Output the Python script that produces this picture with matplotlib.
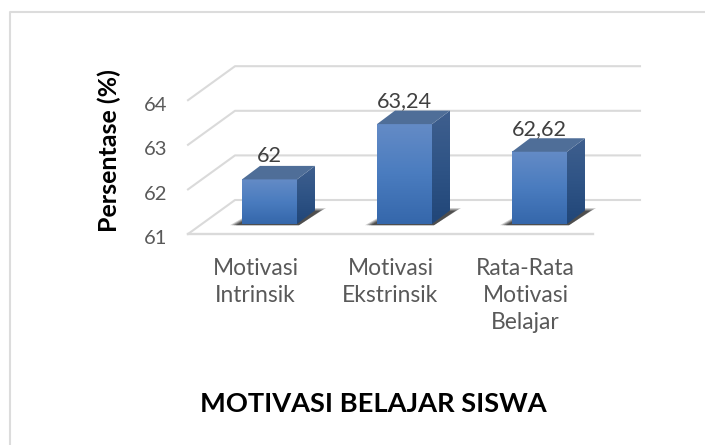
import numpy as np
import matplotlib
matplotlib.use("Agg")
import matplotlib.pyplot as plt
from matplotlib.colors import LinearSegmentedColormap
from matplotlib.patches import Polygon
from matplotlib.lines import Line2D
from matplotlib.transforms import ScaledTranslation

categories = ["Motivasi\nIntrinsik", "Motivasi\nEkstrinsik", "Rata-Rata\nMotivasi\nBelajar"]
values = [62.0, 63.24, 62.62]
value_labels = ["62", "63,24", "62,62"]
y_ticks = [61, 62, 63, 64]
title = "MOTIVASI BELAJAR SISWA"
y_label = "Persentase (%)"

W, H = 705, 445
plt.rcParams["font.family"] = ["Lato", "DejaVu Sans"]
fig = plt.figure(figsize=(W / 100, H / 100), dpi=100, facecolor="white")

# axes = front edge of the floor of the 3D box
L, R, B, T = 188, 593, 234, 100.2
ax = fig.add_axes([L / W, 1 - B / H, (R - L) / W, (B - T) / H])
ax.set_xlim(-0.5, 2.5)
ax.set_ylim(61, 64)
ax.patch.set_alpha(0)
for s in ax.spines.values():
    s.set_visible(False)

PX = 3 / (R - L)          # data x per pixel
PY = 3 / (B - T)          # data y per pixel
GRID = "#dadada"
DX, DY = 47 * PX, 34 * PY  # depth of the box

# walls and floor lines
for v in y_ticks:
    ax.plot([-0.5, -0.5 + DX, 2.5 + DX], [v, v + DY, v + DY], color=GRID, lw=1.5,
            clip_on=False, zorder=1, solid_joinstyle="round")
ax.plot([-0.5, 2.5], [61, 61], color=GRID, lw=1.7, clip_on=False, zorder=1)

# bars
ox, oy = 14 * PX, 10 * PY           # bar front plane
bw = 55 * PX
bx, by = 18 * PX, 13.5 * PY         # bar depth
front = LinearSegmentedColormap.from_list("f", ["#648bc6", "#4a7cbf", "#3567ab"])
side = LinearSegmentedColormap.from_list("s", ["#3f5f8e", "#2f5486", "#214678"])
grad = np.linspace(0, 1, 128).reshape(-1, 1)

for i, (v, lab) in enumerate(zip(values, value_labels)):
    x0 = i - bw / 2 + ox
    x1 = x0 + bw
    y0 = 61 + oy
    y1 = v + oy
    # floor shadow: soft parallelogram lying behind the bar
    for inset, a in [(0, 0.22), (2, 0.30), (4, 0.38), (6, 0.45)]:
        ax.add_patch(Polygon([(x0 - (12 - inset) * PX, y0 - 1.2 * PY),
                              (x1 + 2 * PX, y0 - 1.2 * PY),
                              (x1 + (29 - inset) * PX, y0 + (16 - inset * 0.5) * PY),
                              (x0 + 18 * PX, y0 + (16 - inset * 0.5) * PY)],
                             closed=True, fc="#262626", ec="none", alpha=a, zorder=2, clip_on=False))
    # front face
    ax.imshow(grad[::-1], cmap=front, extent=(x0, x1, y0, y1), origin="lower",
              aspect="auto", zorder=4, clip_on=False)
    # side face
    sp = Polygon([(x1, y0), (x1 + bx, y0 + by), (x1 + bx, y1 + by), (x1, y1)], closed=True,
                 fc="none", ec="none", zorder=3, clip_on=False)
    ax.add_patch(sp)
    im2 = ax.imshow(grad[::-1], cmap=side, extent=(x1, x1 + bx, y0, y1 + by), origin="lower",
                    aspect="auto", zorder=3)
    im2.set_clip_path(sp)
    # top face
    ax.add_patch(Polygon([(x0, y1), (x1, y1), (x1 + bx, y1 + by), (x0 + bx, y1 + by)], closed=True,
                         fc="#4f6e98", ec="none", zorder=4, clip_on=False))
    # value label
    ax.annotate(lab, (i + ox, y1 + by), xytext=(0, 2.5), textcoords="offset points", ha="center", va="baseline",
                fontsize=15.6, color="#404040", zorder=6)

ax.set_xlim(-0.5, 2.5)
ax.set_ylim(61, 64)
ax.set_xticks(range(3), categories, linespacing=1.36)
ax.set_yticks(y_ticks, [str(t) for t in y_ticks])
ax.tick_params(axis="x", length=0, pad=17, labelsize=16.4, labelcolor="#595959")
ax.tick_params(axis="y", length=0, pad=15, labelsize=14.5, labelcolor="#595959")
shift = ScaledTranslation(0, -3.5 / 100, fig.dpi_scale_trans)
for t in ax.get_yticklabels():
    t.set_transform(t.get_transform() + shift)
ax.set_ylabel(y_label, fontsize=18, fontweight="bold", color="black")
ax.yaxis.set_label_coords((121 - L) / (R - L), (B - 151) / (B - T))
fig.text(373 / W, 1 - 412 / H, title, ha="center", va="baseline", fontsize=19.6, fontweight="bold", color="black")

# outer frame (top and left only are visible)
fig.add_artist(Line2D([10 / W, 10 / W, 1], [0, 1 - 12 / H, 1 - 12 / H], color="#dcdcdc", lw=1.5))

fig.savefig("out.png", dpi=100, facecolor="white")
